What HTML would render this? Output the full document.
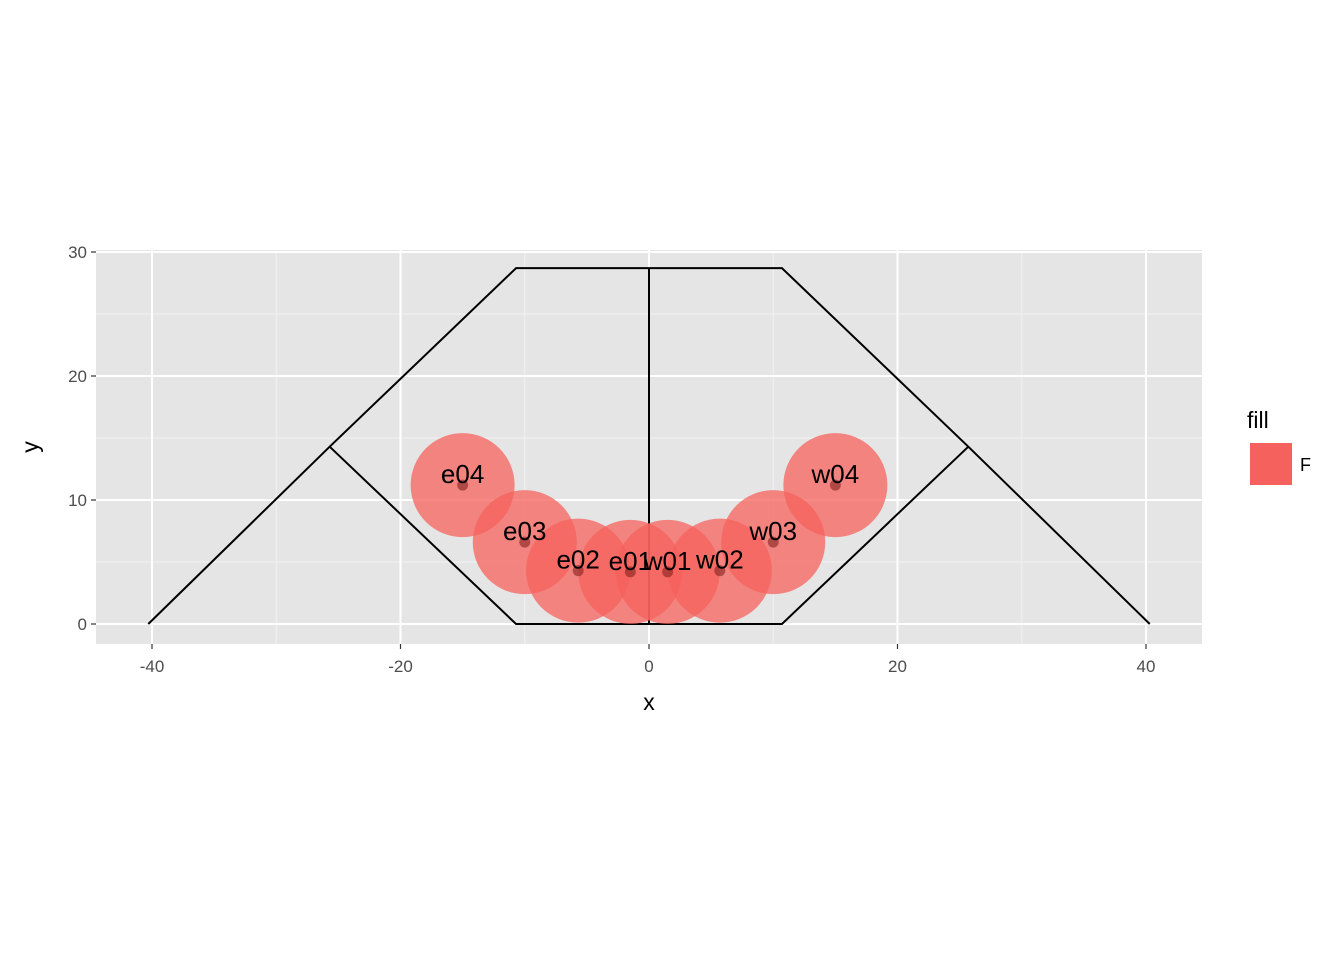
<!DOCTYPE html>
<html><head><meta charset="utf-8"><style>
body{margin:0;background:#fff}
svg{display:block;font-family:"Liberation Sans",Arial,sans-serif}
</style></head><body>
<svg width="1344" height="960">
<g id="plot"></g>
</svg>
<script>
const labels=["e04","e03","e02","e01","w01","w02","w03","w04"];
const xs=[-15,-10,-5.7,-1.5,1.5,5.7,10,15];
const ys=[11.2,6.6,4.3,4.2,4.2,4.3,6.6,11.2];
const outerX=[-40.3,-25.7,-10.7,10.7,25.7,40.3];
const outerY=[0,14.3,28.7,28.7,14.3,0];
const innerX=[-25.7,-10.7,10.7,25.7];
const innerY=[14.3,0,0,14.3];
const centerX=[0,0];
const centerY=[0,28.7];
const xTicks=[-40,-20,0,20,40];
const yTicks=[0,10,20,30];
const xMinor=[-30,-10,10,30];
const yMinor=[5,15,25];
const L=96,R=1202,T=250,B=644;
const sx=v=>649+v*12.425;
const sy=v=>624-v*12.4;
const NS="http://www.w3.org/2000/svg";
const g=document.getElementById('plot');
function mk(tag,attrs,parent){const e=document.createElementNS(NS,tag);for(const k in attrs)e.setAttribute(k,attrs[k]);(parent||g).appendChild(e);return e;}
let p=mk('rect',{x:L,y:T,width:R-L,height:B-T,fill:'#e5e5e5'});


xMinor.forEach(v=>{const l=mk('line',{x1:sx(v),x2:sx(v),y1:T,y2:B,stroke:'#f2f2f2','stroke-width':1});

});
yMinor.forEach(v=>{const l=mk('line',{x1:L,x2:R,y1:sy(v),y2:sy(v),stroke:'#f2f2f2','stroke-width':1});

});
xTicks.forEach(v=>{const l=mk('line',{x1:sx(v),x2:sx(v),y1:T,y2:B,stroke:'#fff','stroke-width':2});


const t=mk('line',{x1:sx(v),x2:sx(v),y1:B,y2:B+5,stroke:'#333','stroke-width':1.2});


const tx=mk('text',{x:sx(v),y:B+28,'text-anchor':'middle','font-size':17,fill:'#4d4d4d'});tx.textContent=v;

});
yTicks.forEach(v=>{const l=mk('line',{x1:L,x2:R,y1:sy(v),y2:sy(v),stroke:'#fff','stroke-width':2});


const t=mk('line',{x1:L-5,x2:L,y1:sy(v),y2:sy(v),stroke:'#333','stroke-width':1.2});


const tx=mk('text',{x:L-9,y:sy(v)+6,'text-anchor':'end','font-size':17,fill:'#4d4d4d'});tx.textContent=v;

});
function poly(X,Y,name){const e=mk('polyline',{points:X.map((x,i)=>sx(x)+','+sy(Y[i])).join(' '),fill:'none',stroke:'#000','stroke-width':2});

}
poly(outerX,outerY,'outer-boundary');
poly(innerX,innerY,'inner-boundary');
poly(centerX,centerY,'center-line');
xs.forEach((x,i)=>{const c=mk('circle',{cx:sx(x),cy:sy(ys[i]),r:52,fill:'#f5615c','fill-opacity':0.75});

});
xs.forEach((x,i)=>{const c=mk('circle',{cx:sx(x),cy:sy(ys[i]),r:5.5,fill:'#7a1a18','fill-opacity':0.55});

});
xs.forEach((x,i)=>{const t=mk('text',{x:sx(x),y:sy(ys[i])-2,'text-anchor':'middle','font-size':26,fill:'#000'});t.textContent=labels[i];

});
let t=mk('text',{x:649,y:710,'text-anchor':'middle','font-size':23});t.textContent='x';


t=mk('text',{x:38,y:447,'text-anchor':'middle','font-size':23,transform:'rotate(-90 38 447)'});t.textContent='y';


t=mk('text',{x:1247,y:428,'font-size':23});t.textContent='fill';


let r=mk('rect',{x:1250,y:443,width:42,height:42,fill:'#f5615c'});


t=mk('text',{x:1300,y:471,'font-size':18});t.textContent='F';


</script>
</body></html>
